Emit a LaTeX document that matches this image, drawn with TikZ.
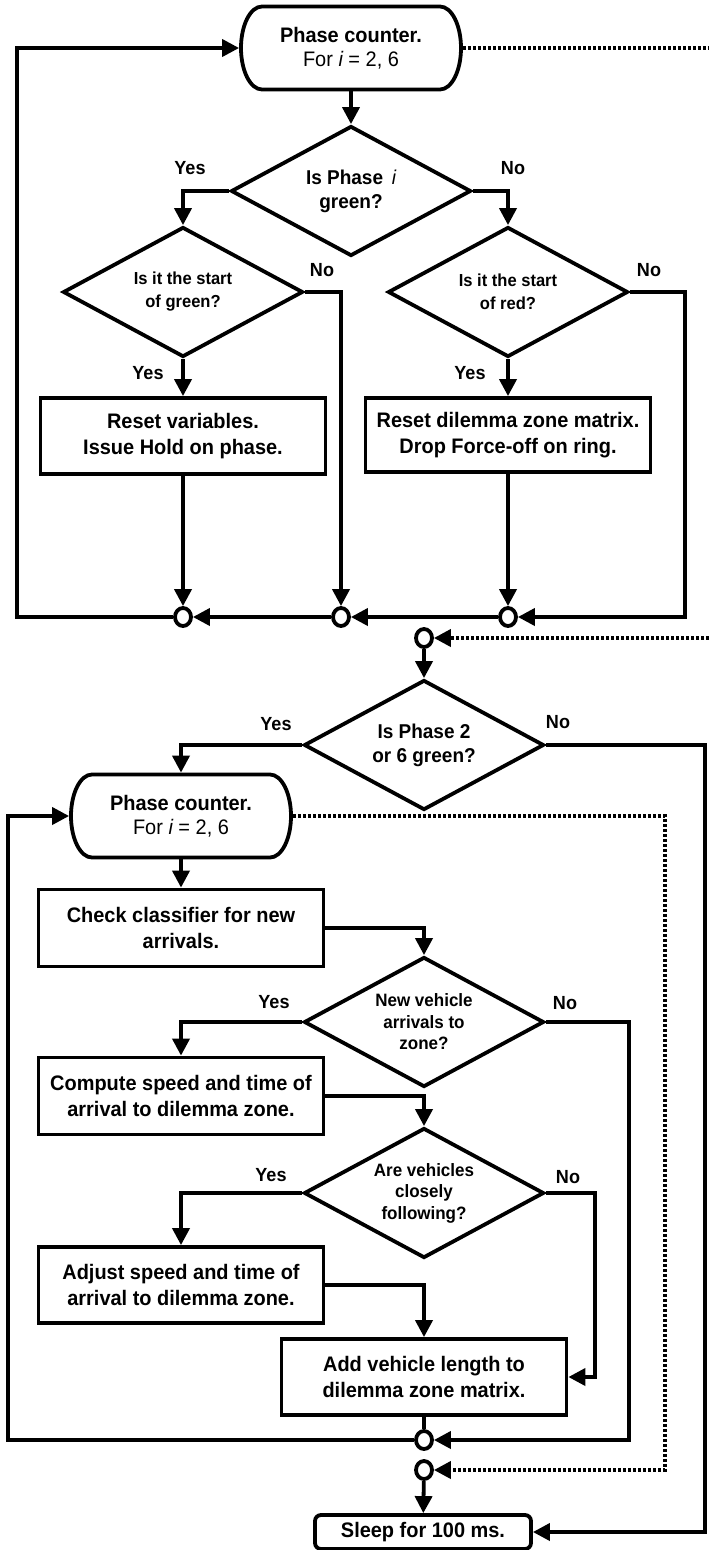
\documentclass[tikz,border=0pt]{standalone}
\usepackage{fontspec}
\setmainfont{Liberation Sans}[FakeStretch=0.95]
\usetikzlibrary{shapes.geometric,shapes.misc,arrows.meta}
\newcommand\drawterm[1]{%
  \draw[line width=3.8pt, fill=white]
    ([xshift=22.9pt,yshift=-1.9pt]#1.north west) -- ([xshift=-22.9pt,yshift=-1.9pt]#1.north east)
    arc[start angle=90, end angle=-90, x radius=21pt, y radius=41.5pt]
    -- ([xshift=22.9pt,yshift=1.9pt]#1.south west)
    arc[start angle=270, end angle=90, x radius=21pt, y radius=41.5pt] -- cycle;}
\begin{document}
\begin{tikzpicture}[x=1pt,y=-1pt,
  line width=3.8pt,
  >={Triangle[length=17pt,width=17pt]},
  base/.style={draw, line width=3.8pt, inner sep=0pt, align=center, fill=white,
    font=\bfseries\fontsize{21}{26}\selectfont},
  procbox/.style={base, rectangle, minimum width=285pt, minimum height=76pt},
  term/.style={inner sep=0pt, outer sep=0pt, align=center, rectangle,
    minimum width=223.8pt, minimum height=86.8pt, font=\bfseries\fontsize{21}{24}\selectfont},
  sleepbox/.style={base, rectangle, rounded corners=6pt, minimum width=216pt, minimum height=34pt},
  dec/.style={base, diamond, aspect=1.85, minimum width=240pt, minimum height=130pt},
  junc/.style={draw, ellipse, line width=3.8pt, minimum width=16pt, minimum height=18pt, inner sep=0pt, fill=white},
  lbl/.style={font=\bfseries\fontsize{19}{20}\selectfont, inner sep=0pt},
  dotline/.style={dash pattern=on 3.5pt off 1.5pt},
  smalldec/.style={font=\bfseries\fontsize{17.4}{23}\selectfont},
  middec/.style={font=\bfseries\fontsize{17.9}{21.5}\selectfont},
  bigdec/.style={font=\bfseries\fontsize{20}{24}\selectfont},
]
\useasboundingbox (0,0) rectangle (709,1550);

% ---------- upper part ----------
\node[term] (t1) at (351,48) {\phantom{X}};
\drawterm{t1}
\node[term] at (t1) {Phase counter.\\{\mdseries For {\itshape i} = 2, 6}};
\node[dec,bigdec] (d1) at (351,191) {Is Phase \,{\mdseries\itshape i}\\green?};
\node[dec,smalldec] (d2) at (183,292) {Is it the start\\of green?};
\node[dec,smalldec] (d3) at (508,292) {Is it the start\\of red?};
\node[procbox] (b1) at (183,436) {Reset variables.\\Issue Hold on phase.};
\node[procbox, minimum height=74pt] (b2) at (508,435) {Reset dilemma zone matrix.\\Drop Force-off on ring.};
\node[junc] (c1) at (183,617) {};
\node[junc] (c2) at (341,617) {};
\node[junc] (c3) at (508,617) {};
\coordinate (eT) at (709,48);
\coordinate (eM) at (709,638);

\node[lbl] at (190,168) {Yes};
\node[lbl] at (513,168) {No};
\node[lbl] at (322,270) {No};
\node[lbl] at (148,373) {Yes};
\node[lbl] at (649,270) {No};
\node[lbl] at (470,373) {Yes};

\draw[->] (t1) -- (d1);
\draw[->] (d1.west) -| (d2.north);
\draw[->] (d1.east) -| (d3.north);
\draw[->] (d2) -- (b1);
\draw[->] (d2.east) -| (c2.north);
\draw[->] (b1) -- (c1);
\draw[->] (d3) -- (b2);
\draw[->] (d3.east) -- ++(55,0) |- (c3);
\draw[->] (b2) -- (c3);
\draw[->] (c3) -- (c2);
\draw[->] (c2) -- (c1);
\draw[->] (c1) -- (17,617) |- (t1);
\draw[dotline] (t1) -- (eT);

% ---------- lower part ----------
\node[junc] (c4) at (424,638) {};
\node[dec,bigdec] (d4) at (424,745) {Is Phase 2\\or 6 green?};
\node[term] (t2) at (181,816) {\phantom{X}};
\drawterm{t2}
\node[term] at (t2) {Phase counter.\\{\mdseries For {\itshape i} = 2, 6}};
\node[procbox, minimum height=77pt] (b3) at (181,928) {Check classifier for new\\arrivals.};
\node[dec,middec] (d5) at (424,1022) {New vehicle\\arrivals to\\zone?};
\node[procbox, minimum height=77pt] (b4) at (181,1096) {Compute speed and time of\\arrival to dilemma zone.};
\node[dec,middec] (d6) at (424,1193) {Are vehicles\\closely\\following?};
\node[procbox] (b5) at (181,1285) {Adjust speed and time of\\arrival to dilemma zone.};
\node[procbox] (b6) at (424,1377) {Add vehicle length to\\dilemma zone matrix.};
\node[junc] (c5) at (424,1440) {};
\node[junc] (c6) at (424,1470) {};
\node[sleepbox] (sl) at (423,1532) {Sleep for 100 ms.};

\node[lbl] at (276,724) {Yes};
\node[lbl] at (558,722) {No};
\node[lbl] at (274,1002) {Yes};
\node[lbl] at (565,1003) {No};
\node[lbl] at (271,1175) {Yes};
\node[lbl] at (568,1177) {No};

\draw[dotline,->] (eM) -- (c4);
\draw[->] (c4) -- (d4);
\draw[->] (d4.west) -| (t2.north);
\draw[->] (d4.east) -- (705,745) |- (sl);
\draw[dotline,->] (t2.east) -- (665,816) |- (c6);
\draw[->] (t2) -- (b3);
\draw[->] (b3.east) -| (d5.north);
\draw[->] (d5.west) -| (b4.north);
\draw[->] (d5.east) -- (629,1022) |- (c5);
\draw[->] (b4.east) -| (d6.north);
\draw[->] (d6.west) -| (b5.north);
\draw[->] (d6.east) -- (595,1193) |- (b6);
\draw[->] (b5.east) -| (b6.north);
\draw (b6) -- (c5);
\draw[->] (c5) -- (8,1440) |- (t2);
\draw[->] (c6) -- (sl);
\end{tikzpicture}
\end{document}
